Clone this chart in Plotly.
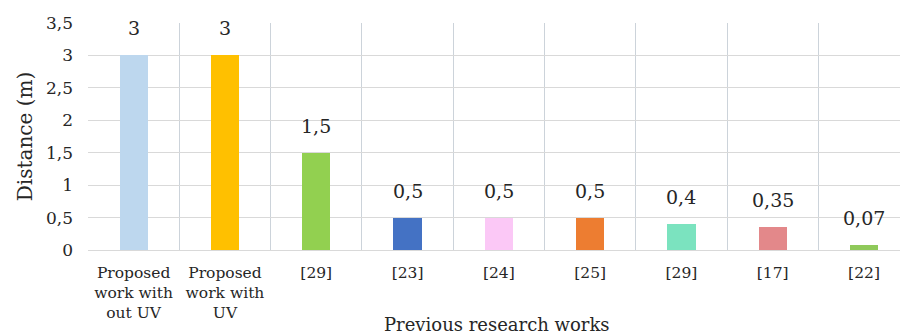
import plotly.graph_objects as go

# Detection distance reported by each work
works = ["Proposed<br>work with<br>out UV", "Proposed<br>work with<br>UV",
         "[29]", "[23]", "[24]", "[25]", "[29]", "[17]", "[22]"]
distance = [3, 3, 1.5, 0.5, 0.5, 0.5, 0.4, 0.35, 0.07]
bar_colors = ["#BDD7EE", "#FFC000", "#92D050", "#4472C4", "#FBC8F6",
              "#ED7D31", "#7BE3BF", "#E3888A", "#8FC95A"]
y_ticks = [0, 0.5, 1, 1.5, 2, 2.5, 3, 3.5]

positions = list(range(len(works)))
serif = "DejaVu Serif"
ink = "#262626"

fig = go.Figure(
    go.Bar(
        x=positions,
        y=distance,
        width=0.31,
        marker=dict(color=bar_colors, line=dict(width=0)),
        hoverinfo="skip",
    )
)

# value labels above each bar
for pos, val in zip(positions, distance):
    fig.add_annotation(
        x=pos, y=val, xref="x", yref="y",
        text=f"{val:g}".replace(".", ","),
        showarrow=False, yanchor="middle", yshift=27,
        font=dict(family=serif, size=19, color=ink),
    )

# axis titles
fig.add_annotation(
    x=0.504, y=-0.328, xref="paper", yref="paper",
    text="Previous research works", showarrow=False,
    xanchor="center", yanchor="middle",
    font=dict(family=serif, size=18, color=ink),
)
fig.add_annotation(
    x=-0.078, y=0.5, xref="paper", yref="paper",
    text="Distance (m)", showarrow=False, textangle=-90,
    xanchor="center", yanchor="middle",
    font=dict(family=serif, size=20, color=ink),
)

fig.update_layout(
    width=900, height=335,
    margin=dict(l=88, r=0, t=23, b=85),
    paper_bgcolor="white", plot_bgcolor="white",
    separators=", ",
    showlegend=False,
    bargap=0,
    font=dict(family=serif, color=ink),
)
fig.update_xaxes(
    range=[-0.5, 8.394],
    tickmode="array", tickvals=positions, ticktext=works,
    tickfont=dict(family=serif, size=15.5, color=ink),
    ticks="", ticklabelstandoff=11,
    showgrid=False, zeroline=False, showline=False,
    minor=dict(tickmode="array",
               tickvals=[p - 0.5 for p in positions] + [positions[-1] + 0.5],
               showgrid=True, gridcolor="#CCD3DA", gridwidth=1.2, ticks=""),
    fixedrange=True,
)
fig.update_yaxes(
    range=[0, 3.5],
    tickmode="array", tickvals=y_ticks,
    tickfont=dict(family=serif, size=17, color=ink),
    ticks="", ticklabelstandoff=14,
    showgrid=True, gridcolor="#D9D9D9", gridwidth=1.2,
    zeroline=True, zerolinecolor="#D9D9D9", zerolinewidth=1.2,
    showline=False,
    fixedrange=True,
)

fig.write_html("out.html", config={"displayModeBar": False})
